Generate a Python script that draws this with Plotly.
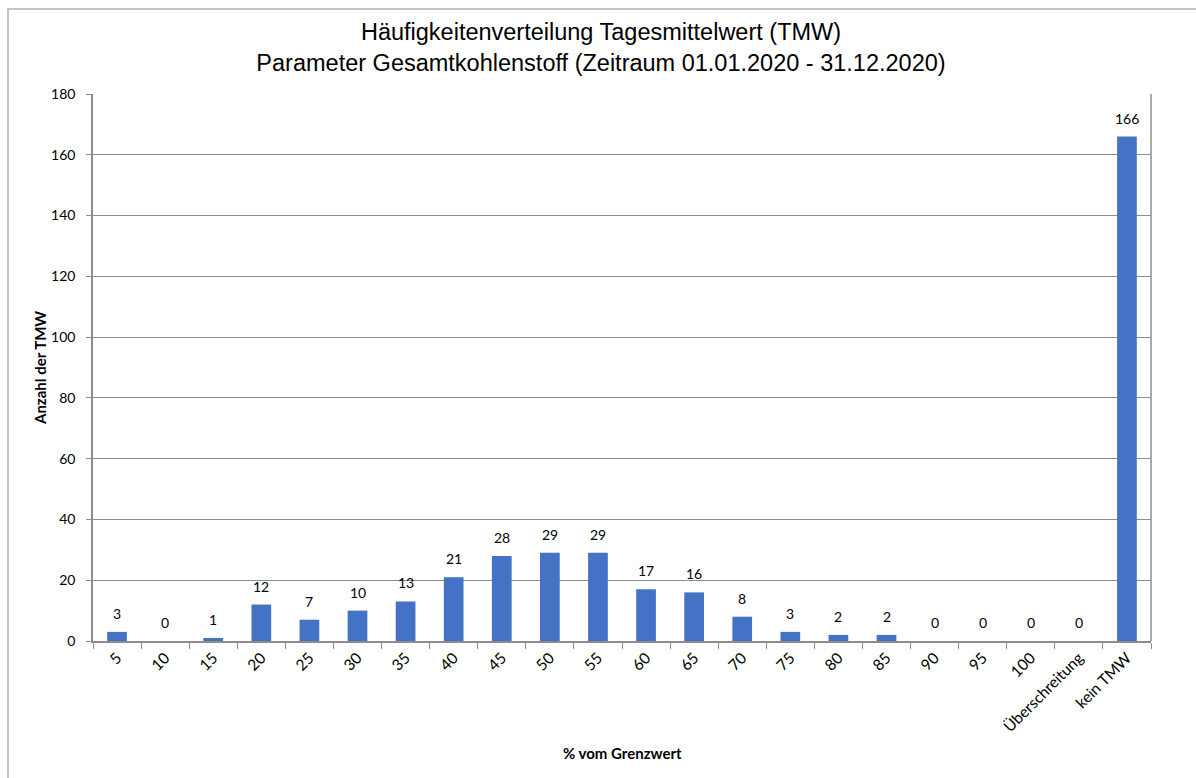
import plotly.graph_objects as go

categories = ["5", "10", "15", "20", "25", "30", "35", "40", "45", "50", "55",
              "60", "65", "70", "75", "80", "85", "90", "95", "100",
              "Überschreitung", "kein TMW"]
counts = [3, 0, 1, 12, 7, 10, 13, 21, 28, 29, 29, 17, 16, 8, 3, 2, 2, 0, 0, 0, 0, 166]
y_ticks = [0, 20, 40, 60, 80, 100, 120, 140, 160, 180]

W, H = 1196, 778
L, R, T, B = 93, 1151, 94, 641
pw, ph = R - L, B - T
FONT = "Lato, Open Sans, sans-serif"

fig = go.Figure(go.Bar(
    x=categories, y=counts,
    marker=dict(color="#4472C4", line=dict(width=0)),
    width=0.41,
))

# data labels: on a category axis annotation x is the category index
for i, v in enumerate(counts):
    fig.add_annotation(x=i, y=v, xref="x", yref="y", text=str(v), showarrow=False,
                       yanchor="bottom", yshift=8,
                       font=dict(family=FONT, size=14, color="#000000"))

fig.update_layout(
    width=W, height=H,
    margin=dict(l=L, r=W - R, t=T, b=H - B),
    paper_bgcolor="white", plot_bgcolor="white",
    showlegend=False,
    title=dict(
        text="Häufigkeitenverteilung Tagesmittelwert (TMW)<br>Parameter Gesamtkohlenstoff (Zeitraum 01.01.2020 - 31.12.2020)",
        x=(601 / W), xanchor="center", y=1 - 40 / H, yanchor="middle",
        font=dict(family="Liberation Sans, Arial, sans-serif", size=23.5, color="#000000"),
    ),
    xaxis=dict(
        type="category", categoryorder="array", categoryarray=categories,
        range=[-0.5, len(categories) - 0.5],
        tickangle=-45,
        tickfont=dict(family=FONT, size=15.5, color="#000000"),
        showline=True, linecolor="#8c8c8c", linewidth=1.5,
        ticks="outside", ticklen=6, tickcolor="#8c8c8c", tickson="boundaries",
        showgrid=False,
    ),
    yaxis=dict(
        range=[0, 180], tickvals=y_ticks,
        tickfont=dict(family=FONT, size=14, color="#000000"),
        showline=True, linecolor="#8c8c8c", linewidth=1.5,
        ticks="outside", ticklen=5, tickcolor="#8c8c8c",
        ticklabelstandoff=8,
        showgrid=True, gridcolor="#8c8c8c", gridwidth=1,
        zeroline=False,
    ),
)

# axis titles
fig.add_annotation(xref="paper", yref="paper", x=(622 - L) / pw, y=-(753 - B) / ph,
                   text="<b>% vom Grenzwert</b>", showarrow=False,
                   xanchor="center", yanchor="middle",
                   font=dict(family=FONT, size=15, color="#000000"))
fig.add_annotation(xref="paper", yref="paper", x=-(L - 40) / pw, y=(B - 368) / ph,
                   text="<b>Anzahl der TMW</b>", showarrow=False, textangle=-90,
                   xanchor="center", yanchor="middle",
                   font=dict(family=FONT, size=15, color="#000000"))

# right border of plot area
fig.add_shape(type="line", xref="paper", yref="paper", x0=1, x1=1, y0=0, y1=1,
              line=dict(color="#8c8c8c", width=1.5))
# outer chart border (left and top visible)
fig.add_shape(type="rect", xref="paper", yref="paper",
              x0=(8 - L) / pw, x1=(W + 20 - L) / pw,
              y0=-(H + 20 - B) / ph, y1=1 + (T - 9) / ph,
              line=dict(color="#b0b0b0", width=1.5), layer="below")

fig.write_html("out.html")
